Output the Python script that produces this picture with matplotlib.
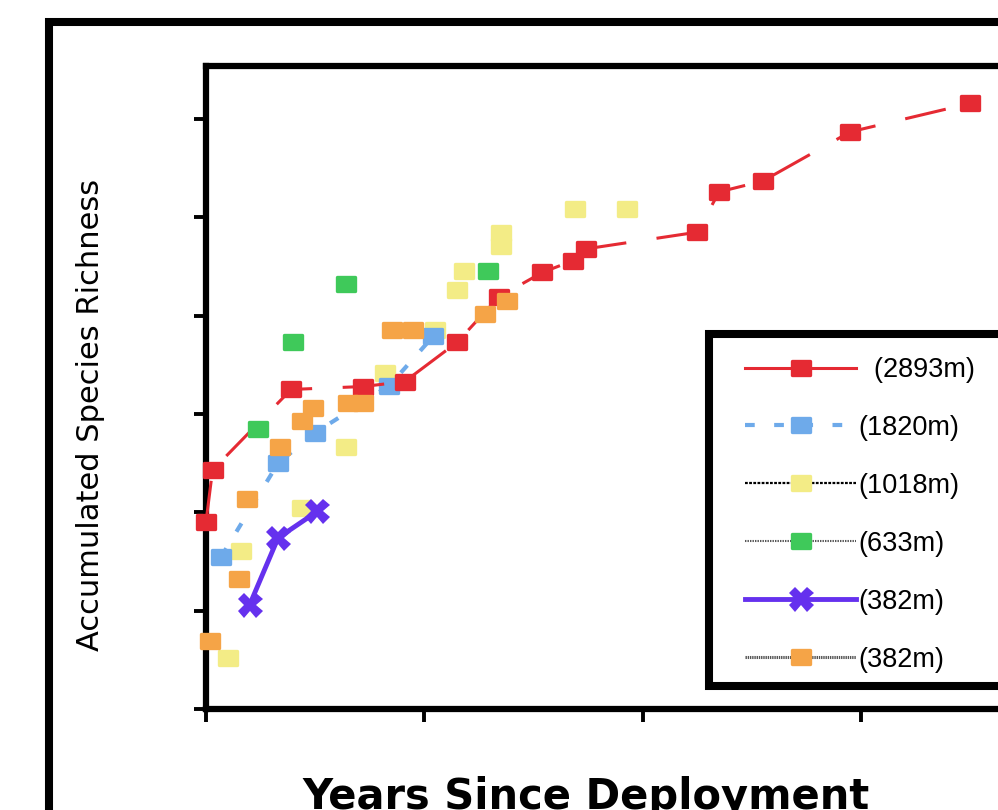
import matplotlib
matplotlib.use("Agg")
import matplotlib.pyplot as plt
from matplotlib.lines import Line2D
from matplotlib.markers import MarkerStyle
from matplotlib.patches import Rectangle
from matplotlib.path import Path

plt.rcParams["lines.scale_dashes"] = False

# Accumulated species richness per site (years since deployment, richness)
red_x = [0.00, 0.03, 0.39, 0.72, 0.91, 1.15, 1.34, 1.54, 1.68, 1.74, 2.25, 2.35, 2.55, 2.95, 3.50]
red_y = [19.0, 24.3, 32.5, 32.8, 33.3, 37.3, 41.9, 44.4, 45.6, 46.8, 48.5, 52.6, 53.7, 58.7, 61.6]

blue_x = [0.07, 0.33, 0.50, 0.84, 1.04]
blue_y = [15.5, 25.0, 28.1, 32.9, 37.9]

yellow_x = [0.10, 0.16, 0.44, 0.64, 0.82, 1.05, 1.15, 1.18, 1.35, 1.35, 1.69, 1.93]
yellow_y = [5.2, 16.1, 20.4, 26.6, 34.2, 38.5, 42.6, 44.6, 47.1, 48.4, 50.9, 50.9]

green_x = [0.24, 0.40, 0.64, 1.29]
green_y = [28.5, 37.3, 43.2, 44.6]

purple_x = [0.20, 0.33, 0.51]
purple_y = [10.6, 17.4, 20.1]

orange_x = [0.02, 0.15, 0.19, 0.34, 0.44, 0.49, 0.65, 0.72, 0.85, 0.95, 1.28, 1.38]
orange_y = [6.9, 13.2, 21.4, 26.6, 29.3, 30.6, 31.1, 31.1, 38.5, 38.5, 40.2, 41.5]

labels = ["  (2893m)", "(1820m)", "(1018m)", "(633m)", "(382m)", "(382m)"]

RED = "#e52a33"
BLUE = "#6eaaea"
YELLOW = "#f3ec86"
GREEN = "#3fc95a"
PURPLE = "#6531ee"
ORANGE = "#f5a447"

# slightly wide rounded block used as the point marker
block = MarkerStyle(Path([(-0.65, -0.5), (0.65, -0.5), (0.65, 0.5), (-0.65, 0.5), (-0.65, -0.5)],
                         [Path.MOVETO, Path.LINETO, Path.LINETO, Path.LINETO, Path.CLOSEPOLY]),
                    joinstyle="round")


def mk(color):
    return dict(marker=block, markersize=13, markeredgewidth=2.4,
                markerfacecolor=color, markeredgecolor=color)


fig = plt.figure(figsize=(9.98, 8.10), dpi=100)
fig.patch.set_facecolor("white")

# outer frame around the whole chart
frame = Rectangle((0.049, -0.2), 1.2, 0.9728 + 0.2, transform=fig.transFigure,
                  fill=False, edgecolor="black", linewidth=5.8, zorder=0)
fig.add_artist(frame)

ax = fig.add_axes([0.2064, 0.1247, 0.896, 0.7938])
ax.set_xlim(0, 4.095)
ax.set_ylim(0, 65.4)

h_yellow, = ax.plot(yellow_x, yellow_y, linestyle="none", zorder=3, clip_on=False, **mk(YELLOW))
h_blue, = ax.plot(blue_x, blue_y, color=BLUE, linewidth=3, linestyle=(0, (7, 14)),
                  zorder=4, clip_on=False, **mk(BLUE))
h_red, = ax.plot(red_x, red_y, color=RED, linewidth=2.2, linestyle=(0, (30, 22)),
                 zorder=5, clip_on=False, **mk(RED))
h_green, = ax.plot(green_x, green_y, linestyle="none", zorder=6, clip_on=False, **mk(GREEN))
h_purple, = ax.plot(purple_x, purple_y, color=PURPLE, linewidth=3.5, marker="X",
                    markersize=18, markeredgewidth=0, markerfacecolor=PURPLE, zorder=7, clip_on=False)
h_orange, = ax.plot(orange_x, orange_y, linestyle="none", zorder=8, clip_on=False, **mk(ORANGE))

for s in ["left", "bottom", "top", "right"]:
    ax.spines[s].set_linewidth(4.5)
    ax.spines[s].set_color("black")

ax.set_xticks([0, 1, 2, 3, 4])
ax.set_yticks([0, 10, 20, 30, 40, 50, 60])
ax.tick_params(direction="out", length=9, width=2.8, labelbottom=False, labelleft=False)

# legend box (extends past the right edge) and its entries
legbox = Rectangle((709 / 998, 1 - 686 / 810), 0.5, (686 - 334) / 810, transform=fig.transFigure,
                   facecolor="white", edgecolor="black", linewidth=5.8, zorder=19)
fig.add_artist(legbox)

leg_handles = [
    Line2D([], [], color=RED, linewidth=2.2, **mk(RED)),
    Line2D([], [], color=BLUE, linewidth=3, linestyle=(0, (7, 14)), **mk(BLUE)),
    Line2D([], [], color="black", linewidth=1.6, linestyle=(0, (2, 1)), **mk(YELLOW)),
    Line2D([], [], color="#555555", linewidth=1.5, linestyle=(0, (1, 0.8)), **mk(GREEN)),
    Line2D([], [], color=PURPLE, linewidth=3.5, marker="X", markersize=18, markeredgewidth=0,
           markerfacecolor=PURPLE),
    Line2D([], [], color="#555555", linewidth=2.2, linestyle=(0, (1, 0.6)), **mk(ORANGE)),
]
leg = fig.legend(leg_handles, labels, loc="upper left",
                 bbox_to_anchor=(745 / 998, 1 - 357 / 810), bbox_transform=fig.transFigure,
                 borderaxespad=0, borderpad=0, handlelength=4.1, handletextpad=0.1,
                 labelspacing=1.18, frameon=False, numpoints=1,
                 prop={"family": "Liberation Sans", "size": 19.5})
leg.set_zorder(20)

fig.text(91 / 998, 1 - 415 / 810, "Accumulated Species Richness", rotation=90,
         ha="center", va="center", fontsize=22, family="DejaVu Sans")
fig.text(586 / 998, 1 - 809 / 810, "Years Since Deployment", ha="center", va="baseline",
         fontsize=30, fontweight="bold", family="DejaVu Sans")

fig.savefig("out.png", dpi=100, facecolor="white")
